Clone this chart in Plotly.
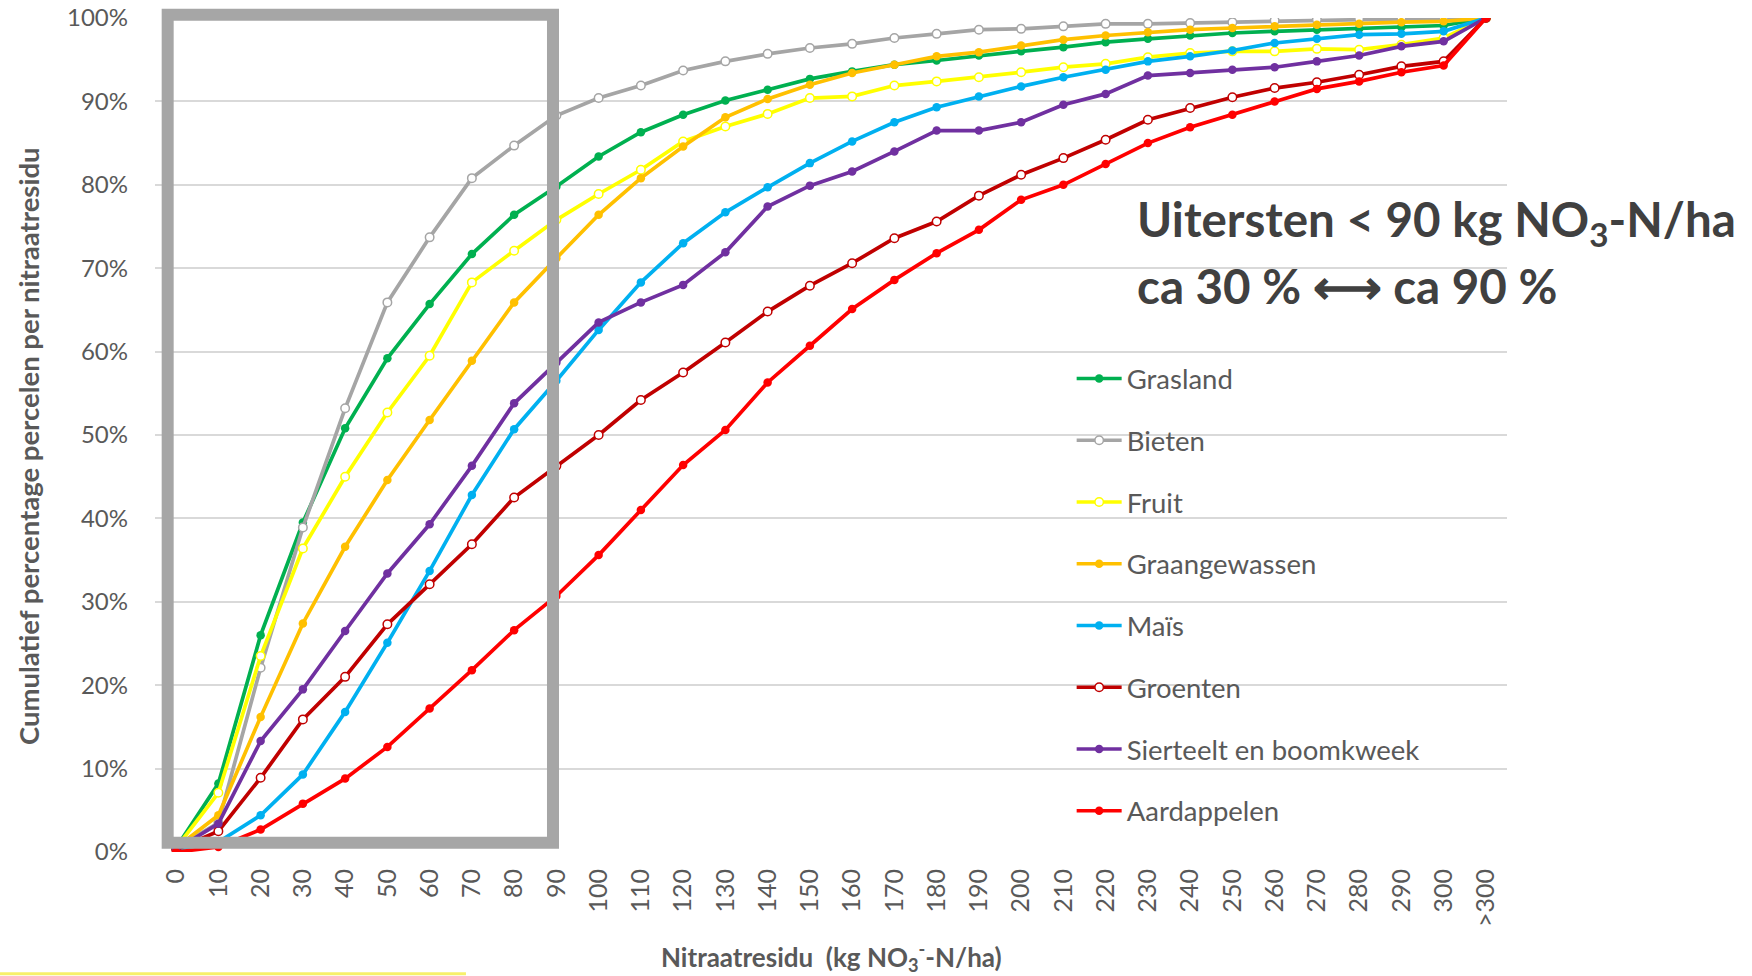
import plotly.graph_objects as go

categories = ["0", "10", "20", "30", "40", "50", "60", "70", "80", "90", "100",
              "110", "120", "130", "140", "150", "160", "170", "180", "190", "200",
              "210", "220", "230", "240", "250", "260", "270", "280", "290", "300", ">300"]

grasland = [0.5, 8.2, 26.0, 39.5, 50.8, 59.2, 65.7, 71.7, 76.4, 79.8, 83.4, 86.3, 88.4, 90.1, 91.4, 92.7,
            93.6, 94.4, 94.9, 95.5, 96.0, 96.5, 97.1, 97.5, 97.9, 98.2, 98.4, 98.6, 98.7, 98.9, 99.1, 100]
bieten = [0.5, 3.5, 22.1, 38.9, 53.2, 65.9, 73.7, 80.8, 84.7, 88.3, 90.4, 91.9, 93.7, 94.8, 95.7, 96.4,
          96.9, 97.6, 98.1, 98.6, 98.7, 99.0, 99.3, 99.3, 99.4, 99.5, 99.7, 99.8, 99.9, 99.9, 99.9, 100]
fruit = [0.5, 7.1, 23.5, 36.4, 45.0, 52.7, 59.5, 68.3, 72.1, 75.8, 78.9, 81.8, 85.2, 87.0, 88.5, 90.4,
         90.6, 91.9, 92.4, 92.9, 93.5, 94.1, 94.5, 95.3, 95.8, 96.0, 96.0, 96.3, 96.2, 96.8, 97.6, 100]
graan = [0.5, 4.4, 16.2, 27.4, 36.6, 44.6, 51.8, 58.9, 65.9, 71.2, 76.4, 80.8, 84.6, 88.1, 90.3, 92.0,
         93.4, 94.4, 95.4, 95.9, 96.7, 97.4, 97.9, 98.3, 98.6, 98.8, 99.0, 99.2, 99.3, 99.5, 99.6, 100]
mais = [0.3, 1.2, 4.4, 9.3, 16.8, 25.1, 33.7, 42.8, 50.7, 56.5, 62.6, 68.3, 73.0, 76.7, 79.7, 82.6,
        85.2, 87.5, 89.3, 90.6, 91.8, 92.9, 93.8, 94.8, 95.4, 96.1, 97.0, 97.5, 98.0, 98.1, 98.4, 100]
groenten = [0.3, 2.5, 8.9, 15.9, 21.0, 27.3, 32.1, 36.9, 42.5, 46.3, 50.0, 54.2, 57.5, 61.1, 64.8, 67.9,
            70.6, 73.6, 75.6, 78.7, 81.2, 83.2, 85.4, 87.8, 89.2, 90.5, 91.6, 92.3, 93.2, 94.2, 94.8, 100]
sierteelt = [0.3, 3.4, 13.3, 19.5, 26.5, 33.4, 39.3, 46.3, 53.8, 58.7, 63.5, 65.9, 68.0, 71.9, 77.4, 79.9,
             81.6, 84.0, 86.5, 86.5, 87.5, 89.6, 90.9, 93.1, 93.4, 93.8, 94.1, 94.8, 95.5, 96.6, 97.2, 100]
aardappelen = [0.0, 0.6, 2.7, 5.8, 8.8, 12.6, 17.2, 21.8, 26.6, 30.7, 35.6, 41.0, 46.4, 50.6, 56.3, 60.7,
               65.1, 68.6, 71.8, 74.6, 78.2, 80.0, 82.5, 85.0, 86.9, 88.4, 90.0, 91.5, 92.4, 93.5, 94.3, 100]

series = [
    ("Grasland", grasland, "#00B050", False),
    ("Bieten", bieten, "#A5A5A5", True),
    ("Fruit", fruit, "#FFFF00", True),
    ("Graangewassen", graan, "#FFC000", False),
    ("Maïs", mais, "#00B0F0", False),
    ("Groenten", groenten, "#C00000", True),
    ("Sierteelt en boomkweek", sierteelt, "#7030A0", False),
    ("Aardappelen", aardappelen, "#FF0000", False),
]

FONT = "Lato"
TXT = "#595959"

fig = go.Figure()
for i, (name, vals, col, hollow) in enumerate(series):
    fig.add_trace(go.Scatter(
        x=categories, y=vals, name=name, mode="lines+markers",
        line=dict(color=col, width=3.7),
        marker=dict(size=8.5, color="white" if hollow else col,
                    line=dict(color=col, width=1.5 if hollow else 0)),
        legendgroup="g%d" % i,
    ))

# highlight box around 0-80 (category-index units)
box_x = [-0.2, 8.92]
box_y = [1.1, 100.4]
n = len(categories)
fig.add_shape(type="rect", xref="paper", yref="paper",
              x0=(box_x[0] + 0.5) / n, x1=(box_x[1] + 0.5) / n,
              y0=box_y[0] / 100, y1=box_y[1] / 100,
              line=dict(color="#A6A6A6", width=12), fillcolor="rgba(0,0,0,0)")

# small yellow stroke at bottom left (slide artifact)
fig.add_shape(type="line", xref="paper", yref="paper",
              x0=-0.115, x1=0.23, y0=-0.146, y1=-0.146,
              line=dict(color="#F7F06A", width=3))

fig.add_annotation(xref="paper", yref="paper", x=0.7245, y=0.755, xanchor="left", yanchor="middle",
                   text="Uitersten &lt; 90 kg NO<sub>3</sub>-N/ha", showarrow=False,
                   font=dict(family=FONT, size=47.5, color="#404040", weight="bold"))
fig.add_annotation(xref="paper", yref="paper", x=0.7245, y=0.679, xanchor="left", yanchor="middle",
                   text="ca 30 % ⟷ ca 90 %", showarrow=False,
                   font=dict(family=FONT, size=47.5, color="#404040", weight="bold"))

# axis titles
fig.add_annotation(xref="paper", yref="paper", x=0.500, y=-0.1259, xanchor="center", yanchor="middle",
                   text="Nitraatresidu  (kg NO<sub>3</sub><sup>-</sup>-N/ha)", showarrow=False,
                   font=dict(family=FONT, size=26, color=TXT, weight="bold"))
fig.add_annotation(xref="paper", yref="paper", x=-0.0939, y=0.4868, xanchor="center", yanchor="middle",
                   textangle=-90,
                   text="Cumulatief percentage percelen per nitraatresidu", showarrow=False,
                   font=dict(family=FONT, size=27.5, color=TXT, weight="bold"))

fig.update_layout(
    width=1752, height=976,
    margin=dict(l=155, r=245, t=18, b=124, autoexpand=False),
    paper_bgcolor="white", plot_bgcolor="white",
    font=dict(family=FONT, color=TXT),
    showlegend=True,
    legend=dict(x=0.678, y=0.597, xanchor="left", yanchor="top",
                bgcolor="rgba(0,0,0,0)", font=dict(family=FONT, size=27.5, color=TXT),
                tracegroupgap=23, itemwidth=45),
    xaxis=dict(type="category", categoryorder="array", categoryarray=categories,
               range=[-0.5, n - 0.5], tickangle=-90, showgrid=False, zeroline=False,
               showline=False, ticks="", automargin=False, ticklabelstandoff=11,
               tickfont=dict(family=FONT, size=25, color=TXT)),
    yaxis=dict(range=[0, 100], dtick=10, ticksuffix="%", showgrid=True, gridcolor="#D9D9D9",
               gridwidth=1.5, zeroline=False, showline=False, ticks="", automargin=False,
               ticklabelstandoff=26, tickfont=dict(family=FONT, size=24, color=TXT)),
)

fig.write_html("out.html", config={"displayModeBar": False},
               post_script="document.body.style.margin='0px';")
